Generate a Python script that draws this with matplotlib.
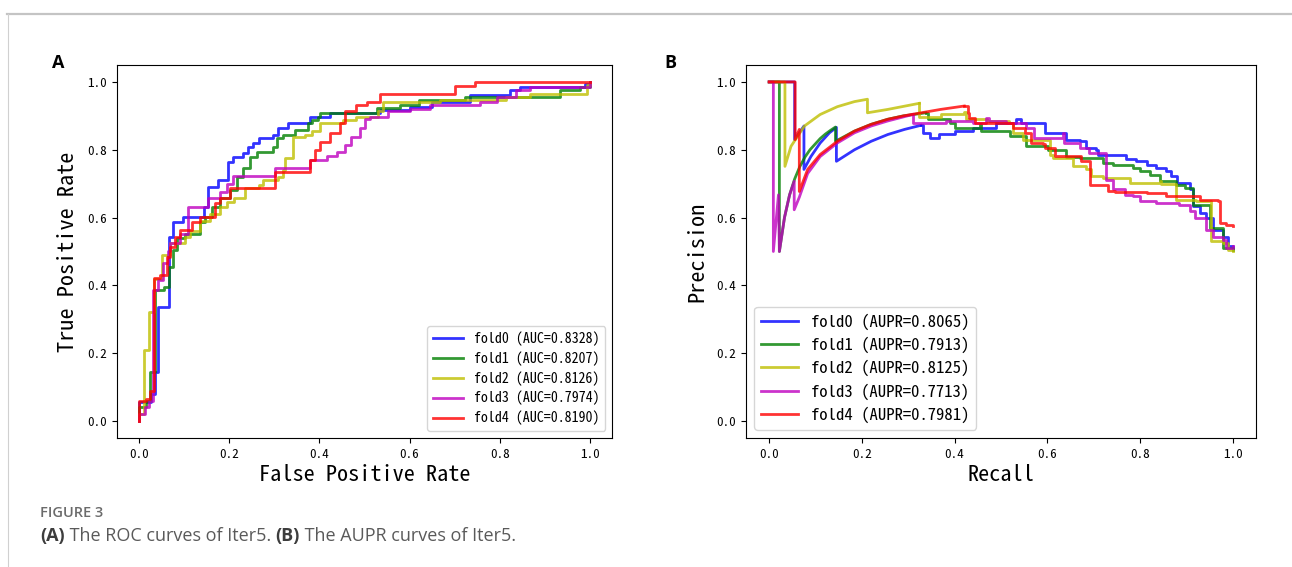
import matplotlib
matplotlib.use('Agg')
import matplotlib.pyplot as plt
from matplotlib import font_manager
from matplotlib.lines import Line2D

# font close to SimHei (half-width monospaced latin)
try:
    font_manager.findfont('Noto Sans Mono CJK SC', fallback_to_default=False)
    cjk = 'Noto Sans Mono CJK SC'
except ValueError:
    cjk = 'Noto Sans CJK SC'

folds = ['fold0', 'fold1', 'fold2', 'fold3', 'fold4']
colors = ['b', 'g', 'y', 'm', 'r']
auc = ['0.8328', '0.8207', '0.8126', '0.7974', '0.8190']
aupr = ['0.8065', '0.7913', '0.8125', '0.7713', '0.7981']

# ROC step corners (fpr where tpr jumps, tpr after jump)
fpr0 = [0, 0.0, 0.026, 0.035, 0.043, 0.067, 0.076, 0.098, 0.143, 0.154, 0.176, 0.198, 0.209, 0.231, 0.241,
        0.253, 0.267, 0.298, 0.309, 0.331, 0.379, 0.423, 0.534, 0.60, 0.65, 0.734, 0.823, 0.845, 0.99, 1.0]
tpr0 = [0, 0.057, 0.08, 0.145, 0.337, 0.544, 0.588, 0.603, 0.632, 0.691, 0.711, 0.765, 0.778, 0.790, 0.809,
        0.821, 0.834, 0.844, 0.863, 0.878, 0.898, 0.909, 0.917, 0.927, 0.94, 0.962, 0.976, 0.986, 0.995, 1.0]
fpr1 = [0, 0.0, 0.015, 0.024, 0.035, 0.055, 0.067, 0.075, 0.084, 0.102, 0.135, 0.146, 0.161, 0.18, 0.202,
        0.217, 0.231, 0.246, 0.261, 0.298, 0.305, 0.32, 0.346, 0.375, 0.383, 0.398, 0.401, 0.527, 0.579,
        0.62, 0.723, 0.933, 0.978, 1.0]
tpr1 = [0, 0.04, 0.06, 0.145, 0.386, 0.396, 0.455, 0.504, 0.539, 0.553, 0.588, 0.603, 0.632, 0.657, 0.681,
        0.721, 0.746, 0.78, 0.794, 0.809, 0.834, 0.844, 0.858, 0.878, 0.888, 0.898, 0.907, 0.922, 0.932,
        0.947, 0.957, 0.976, 0.986, 1.0]
fpr2 = [0, 0.0, 0.01, 0.021, 0.033, 0.05, 0.069, 0.102, 0.113, 0.135, 0.157, 0.18, 0.194, 0.21, 0.235,
        0.265, 0.276, 0.309, 0.32, 0.324, 0.342, 0.368, 0.383, 0.401, 0.453, 0.482, 0.531, 0.542, 0.667,
        0.815, 0.867, 0.993, 1.0]
tpr2 = [0, 0.02, 0.209, 0.322, 0.42, 0.49, 0.524, 0.543, 0.56, 0.59, 0.612, 0.632, 0.647, 0.657, 0.686,
        0.696, 0.711, 0.721, 0.74, 0.775, 0.839, 0.844, 0.854, 0.878, 0.888, 0.898, 0.913, 0.942, 0.947,
        0.957, 0.965, 0.991, 1.0]
fpr3 = [0, 0.0, 0.013, 0.022, 0.03, 0.043, 0.054, 0.065, 0.069, 0.091, 0.109, 0.154, 0.18, 0.195, 0.209,
        0.302, 0.379, 0.416, 0.438, 0.457, 0.471, 0.49, 0.501, 0.512, 0.553, 0.601, 0.645, 0.756, 0.793,
        0.837, 0.867, 1.0]
tpr3 = [0, 0.02, 0.04, 0.06, 0.386, 0.416, 0.465, 0.50, 0.524, 0.553, 0.632, 0.657, 0.676, 0.70, 0.723,
        0.746, 0.77, 0.782, 0.794, 0.814, 0.839, 0.863, 0.892, 0.898, 0.913, 0.919, 0.932, 0.942, 0.957,
        0.976, 0.986, 1.0]
fpr4 = [0, 0.0, 0.015, 0.025, 0.033, 0.047, 0.061, 0.069, 0.08, 0.091, 0.117, 0.135, 0.168, 0.18, 0.202,
        0.302, 0.379, 0.39, 0.401, 0.423, 0.446, 0.457, 0.482, 0.505, 0.534, 0.70, 0.745, 1.0]
tpr4 = [0, 0.06, 0.065, 0.09, 0.421, 0.431, 0.485, 0.514, 0.543, 0.563, 0.588, 0.603, 0.642, 0.657, 0.686,
        0.735, 0.77, 0.80, 0.824, 0.849, 0.878, 0.913, 0.932, 0.942, 0.965, 0.988, 1.0, 1.0]

# PR vertices (recall, precision)
rec0 = [0.0, 0.055, 0.055, 0.075, 0.075, 0.09, 0.11, 0.13, 0.145, 0.145, 0.184, 0.22, 0.256, 0.292, 0.327,
        0.331, 0.346, 0.367, 0.40, 0.439, 0.49, 0.532, 0.543, 0.587, 0.596, 0.64, 0.67, 0.684, 0.706, 0.71,
        0.764, 0.77, 0.792, 0.814, 0.835, 0.857, 0.867, 0.879, 0.907, 0.914, 0.929, 0.943, 0.957, 0.979,
        0.99, 1.0]
pre0 = [1.0, 1.0, 0.83, 0.87, 0.742, 0.78, 0.82, 0.85, 0.866, 0.766, 0.80, 0.825, 0.845, 0.86, 0.872,
        0.85, 0.835, 0.845, 0.855, 0.865, 0.88, 0.89, 0.88, 0.88, 0.85, 0.83, 0.825, 0.806, 0.80, 0.785,
        0.786, 0.772, 0.766, 0.756, 0.747, 0.737, 0.722, 0.702, 0.683, 0.633, 0.614, 0.599, 0.564, 0.544,
        0.515, 0.51]
rec1 = [0.0, 0.022, 0.022, 0.033, 0.044, 0.055, 0.066, 0.077, 0.088, 0.10, 0.11, 0.121, 0.132, 0.143,
        0.143, 0.184, 0.22, 0.256, 0.29, 0.338, 0.342, 0.389, 0.40, 0.454, 0.456, 0.486, 0.52, 0.554, 0.601,
        0.64, 0.67, 0.706, 0.72, 0.742, 0.785, 0.799, 0.821, 0.842, 0.877, 0.898, 0.914, 0.95, 0.979, 1.0]
pre1 = [1.0, 1.0, 0.5, 0.6, 0.667, 0.714, 0.75, 0.778, 0.8, 0.818, 0.833, 0.846, 0.857, 0.867,
        0.825, 0.855, 0.875, 0.89, 0.90, 0.909, 0.89, 0.88, 0.865, 0.875, 0.855, 0.855, 0.84, 0.81, 0.80,
        0.78, 0.776, 0.775, 0.761, 0.756, 0.747, 0.737, 0.727, 0.707, 0.697, 0.687, 0.638, 0.569, 0.51, 0.505]
rec2 = [0.0, 0.034, 0.034, 0.047, 0.076, 0.11, 0.147, 0.184, 0.212, 0.212, 0.256, 0.324, 0.324, 0.37,
        0.421, 0.425, 0.47, 0.518, 0.526, 0.547, 0.605, 0.612, 0.655, 0.684, 0.695, 0.72, 0.778, 0.842,
        0.845, 0.877, 0.921, 0.935, 0.954, 0.979, 0.99, 1.0]
pre2 = [1.0, 1.0, 0.751, 0.81, 0.87, 0.904, 0.927, 0.942, 0.949, 0.909, 0.919, 0.937, 0.896, 0.905,
        0.91, 0.89, 0.885, 0.88, 0.85, 0.83, 0.786, 0.776, 0.751, 0.742, 0.722, 0.717, 0.702, 0.707,
        0.70, 0.653, 0.648, 0.648, 0.53, 0.525, 0.505, 0.50]
rec3 = [0.0, 0.009, 0.009, 0.02, 0.022, 0.033, 0.044, 0.054, 0.054, 0.065, 0.083, 0.11, 0.147, 0.184,
        0.22, 0.256, 0.29, 0.31, 0.31, 0.328, 0.381, 0.439, 0.468, 0.475, 0.511, 0.553, 0.572, 0.633, 0.637,
        0.67, 0.69, 0.726, 0.742, 0.767, 0.785, 0.799, 0.835, 0.885, 0.907, 0.918, 0.943, 0.957, 0.979,
        0.986, 1.0]
pre3 = [1.0, 1.0, 0.5, 0.667, 0.5, 0.6, 0.667, 0.707, 0.623, 0.66, 0.73, 0.78, 0.82, 0.85,
        0.87, 0.885, 0.897, 0.904, 0.88, 0.88, 0.885, 0.88, 0.895, 0.885, 0.88, 0.865, 0.835, 0.85, 0.82,
        0.806, 0.79, 0.712, 0.683, 0.668, 0.663, 0.648, 0.643, 0.638, 0.618, 0.599, 0.564, 0.544, 0.535,
        0.51, 0.515]
rec4 = [0.0, 0.056, 0.056, 0.065, 0.065, 0.083, 0.11, 0.147, 0.184, 0.22, 0.256, 0.29, 0.328, 0.37, 0.421,
        0.428, 0.43, 0.443, 0.49, 0.525, 0.551, 0.565, 0.59, 0.594, 0.616, 0.673, 0.691, 0.693, 0.731,
        0.747, 0.814, 0.857, 0.907, 0.929, 0.968, 0.972, 0.986, 1.0]
pre4 = [1.0, 1.0, 0.83, 0.86, 0.677, 0.742, 0.786, 0.825, 0.855, 0.875, 0.89, 0.90, 0.909, 0.919, 0.929,
        0.909, 0.895, 0.88, 0.88, 0.865, 0.85, 0.82, 0.816, 0.806, 0.781, 0.766, 0.761, 0.697, 0.677,
        0.676, 0.673, 0.663, 0.663, 0.653, 0.648, 0.584, 0.579, 0.574]

# index where each PR curve stops rising smoothly and turns into a staircase
stair_from = [14, 19, 11, 17, 14]

fprs = [fpr0, fpr1, fpr2, fpr3, fpr4]
tprs = [tpr0, tpr1, tpr2, tpr3, tpr4]
recs = [rec0, rec1, rec2, rec3, rec4]
pres = [pre0, pre1, pre2, pre3, pre4]

ticks = [0.0, 0.2, 0.4, 0.6, 0.8, 1.0]

fig = plt.figure(figsize=(12.92, 5.67), dpi=100)

# page frame lines
fig.add_artist(Line2D([0.0055, 1.0], [0.975, 0.975], color='#c4c4c4', lw=1.6))
fig.add_artist(Line2D([0.0065, 0.0065], [0.0, 0.975], color='#d0d0d0', lw=0.8))

ax1 = fig.add_axes([0.0902, 0.2275, 0.3838, 0.6579])
ax2 = fig.add_axes([0.5774, 0.2275, 0.3947, 0.6579])

for i in range(5):
    ax1.plot(fprs[i], tprs[i], drawstyle='steps-post', color=colors[i], alpha=0.8, lw=2,
             label='%s (AUC=%s)' % (folds[i], auc[i]))
    k = stair_from[i]
    ax2.plot(recs[i][:k + 1], pres[i][:k + 1], color=colors[i], alpha=0.8, lw=2,
             label='%s (AUPR=%s)' % (folds[i], aupr[i]))
    ax2.plot(recs[i][k:], pres[i][k:], drawstyle='steps-post', color=colors[i], alpha=0.8, lw=2)

for ax in [ax1, ax2]:
    ax.set_xlim(-0.05, 1.05)
    ax.set_ylim(-0.05, 1.05)
    ax.set_xticks(ticks)
    ax.set_yticks(ticks)
    ax.set_xticklabels(['%.1f' % t for t in ticks], family=cjk, fontsize=9.5)
    ax.set_yticklabels(['%.1f' % t for t in ticks], family=cjk, fontsize=9.5)

ax1.set_xlabel('False Positive Rate', family=cjk, fontsize=16, labelpad=2)
ax1.set_ylabel('True Positive Rate', family=cjk, fontsize=16, labelpad=6)
ax2.set_xlabel('Recall', family=cjk, fontsize=16, labelpad=2)
ax2.set_ylabel('Precision', family=cjk, fontsize=16, labelpad=6)

ax1.legend(loc='lower right', prop={'family': cjk, 'size': 10}, labelspacing=0.38, handlelength=2.2)
ax2.legend(loc='lower left', prop={'family': cjk, 'size': 12}, labelspacing=0.41, handlelength=2.2)

fig.text(0.045, 0.889, 'A', fontsize=13, fontweight='bold', family='Open Sans', ha='center', va='center')
fig.text(0.519, 0.889, 'B', fontsize=13, fontweight='bold', family='Open Sans', ha='center', va='center')

# caption
fig.text(0.031, 0.095, 'FIGURE 3', fontsize=10.5, color='#6b6b6b', family='Open Sans', fontweight='semibold',
         va='center')
parts = [('(A)', 'bold', '#3d3d3d'), (' The ROC curves of Iter5. ', 'normal', '#5a5a5a'),
         ('(B)', 'bold', '#3d3d3d'), (' The AUPR curves of Iter5.', 'normal', '#5a5a5a')]
fig.canvas.draw()
r = fig.canvas.get_renderer()
x = 0.031
for s, w, c in parts:
    t = fig.text(x, 0.054, s, fontsize=13, fontweight=w, color=c, family='Open Sans', va='center')
    bb = t.get_window_extent(renderer=r)
    x += bb.width / fig.bbox.width

fig.savefig('out.png', dpi=100)
